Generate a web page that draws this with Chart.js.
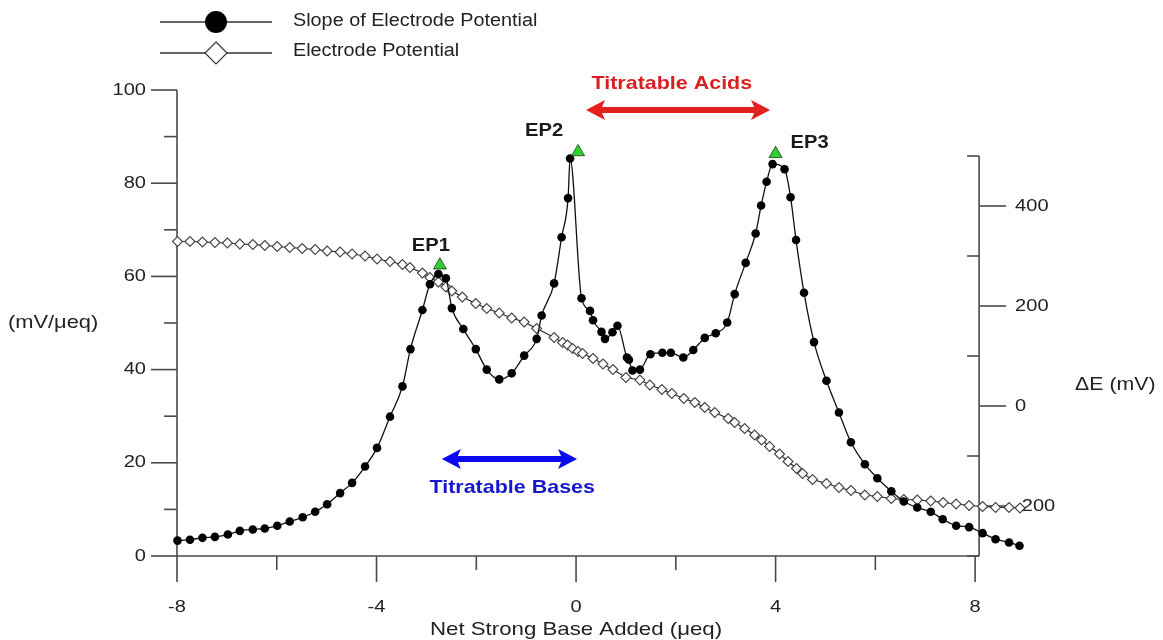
<!DOCTYPE html>
<html>
<head>
<meta charset="utf-8">
<script src="https://cdn.jsdelivr.net/npm/chart.js@4.4.1/dist/chart.umd.min.js"></script>
<style>
  html, body { margin: 0; padding: 0; background: #fff; }
  #wrap { width: 1163px; height: 640px; }
</style>
</head>
<body>
<div id="wrap"><canvas id="chart" width="1163" height="640"></canvas></div>
<script>
// slope of electrode potential (mV/μeq) vs net strong base added (μeq)
const slopeX = [-7.99, -7.74, -7.49, -7.24, -6.98, -6.74, -6.48, -6.24, -5.99, -5.74, -5.48, -5.23, -4.99,
  -4.73, -4.49, -4.23, -3.99, -3.73, -3.48, -3.32, -3.08, -2.93, -2.76, -2.61, -2.49,
  -2.26, -2.01, -1.79, -1.54, -1.29, -1.04, -0.79, -0.69, -0.44, -0.29, -0.16, -0.12,
  0.11, 0.28, 0.34, 0.51, 0.58, 0.73, 0.83, 1.02, 1.06, 1.13, 1.28, 1.49, 1.73, 1.90, 2.15, 2.35, 2.58, 2.80,
  3.03, 3.18, 3.40, 3.60, 3.71, 3.82, 3.94,
  4.18, 4.30, 4.41, 4.57, 4.77, 5.02, 5.27, 5.51, 5.79, 6.04, 6.32, 6.57, 6.84, 7.11, 7.35, 7.62, 7.88,
  8.15, 8.41, 8.68, 8.89];
const slopeY = [3.3, 3.5, 3.9, 4.1, 4.6, 5.4, 5.7, 5.9, 6.5, 7.4, 8.3, 9.5, 11.1,
  13.5, 15.7, 19.2, 23.2, 29.9, 36.4, 44.4, 52.8, 58.3, 60.5, 59.6, 53.2,
  48.7, 44.4, 40.0, 37.9, 39.2, 43.0, 46.6, 51.6, 58.5, 68.4, 76.8, 85.3,
  55.3, 52.6, 50.6, 48.1, 46.6, 48.0, 49.4, 42.6, 42.1, 39.8, 40.0, 43.3, 43.6, 43.6, 42.6, 44.2, 46.8, 47.8,
  50.1, 56.2, 62.9, 69.2, 75.2, 80.3, 84.1,
  83.0, 77.0, 67.8, 56.5, 45.9, 37.6, 30.8, 24.4, 19.7, 16.7, 13.9, 11.7, 10.4, 9.5, 7.9, 6.5, 6.2,
  4.9, 3.6, 2.9, 2.2];

// electrode potential ΔE (mV), right axis
const potX = [-7.99, -7.74, -7.49, -7.24, -6.99, -6.74, -6.48, -6.24, -5.99, -5.74, -5.49, -5.23, -4.99,
  -4.73, -4.49, -4.23, -3.99, -3.73, -3.48, -3.33, -3.08, -2.93, -2.76, -2.61, -2.49,
  -2.28, -2.01, -1.79, -1.54, -1.29, -1.04, -0.79, -0.44, -0.27, -0.17, -0.07, 0.04, 0.13, 0.34, 0.54, 0.74, 1.0,
  1.28, 1.48, 1.72, 1.92, 2.16, 2.38, 2.58, 2.78, 3.05, 3.18, 3.38, 3.58, 3.72, 3.88, 4.08, 4.25, 4.42, 4.54, 4.74,
  5.02, 5.27, 5.51, 5.79, 6.04, 6.32, 6.57, 6.84, 7.11, 7.36, 7.62, 7.88, 8.15, 8.41, 8.68, 8.9];
const potY = [329, 329, 328, 327, 326, 324, 323, 321, 319, 317, 315, 313, 310,
  308, 304, 300, 294, 289, 283, 277, 266, 257, 248, 238, 230,
  218, 205, 195, 186, 176, 168, 155, 137, 127, 122, 115, 109, 105, 95, 84, 73, 57,
  52, 42, 33, 25, 15, 7, -3, -13, -25, -33, -45, -58, -68, -81, -96, -111, -125, -135, -147,
  -155, -163, -169, -178, -181, -185, -187, -188, -190, -193, -196, -199, -201, -203, -203, -204];

// equivalence points
const epNames = ["EP1", "EP2", "EP3"];
const epX = [-2.73, 0.04, 4.0];
const epY = [62.4, 86.7, 86.3];

// axes
const xTickLabels = [-8, -4, 0, 4, 8];
const xMinorTicks = [-6, -2, 2, 6];
const leftTickLabels = [0, 20, 40, 60, 80, 100];
const leftMinorTicks = [10, 30, 50, 70, 90];
const rightTickLabels = [-200, 0, 200, 400];
const rightMinorTicks = [-300, -100, 100, 300, 500];
const rightAxisAt = 8.08;

const FONT = '"Liberation Sans", Arial, sans-serif';
const AXIS_COLOR = "#4a4a4a";
const TEXT_COLOR = "#222";

function text(ctx, str, x, y, font, color, align, sx) {
  ctx.save();
  ctx.font = font;
  ctx.fillStyle = color;
  ctx.textAlign = align || "center";
  ctx.textBaseline = "middle";
  ctx.translate(x, y);
  ctx.scale(sx || 1, 1);
  ctx.fillText(str, 0, 0);
  ctx.restore();
}

function line(ctx, x1, y1, x2, y2) {
  ctx.beginPath();
  ctx.moveTo(x1, y1);
  ctx.lineTo(x2, y2);
  ctx.stroke();
}

function doubleArrow(ctx, x1, x2, y, color) {
  const head = 19, half = 10, shaft = 3;
  ctx.save();
  ctx.fillStyle = color;
  ctx.beginPath();
  ctx.moveTo(x1, y);
  ctx.lineTo(x1 + head, y - half);
  ctx.lineTo(x1 + head - 3, y - shaft);
  ctx.lineTo(x2 - head + 3, y - shaft);
  ctx.lineTo(x2 - head, y - half);
  ctx.lineTo(x2, y);
  ctx.lineTo(x2 - head, y + half);
  ctx.lineTo(x2 - head + 3, y + shaft);
  ctx.lineTo(x1 + head - 3, y + shaft);
  ctx.lineTo(x1 + head, y + half);
  ctx.closePath();
  ctx.fill();
  ctx.restore();
}

function diamond(ctx, cx, cy, r) {
  ctx.beginPath();
  ctx.moveTo(cx, cy - r);
  ctx.lineTo(cx + r, cy);
  ctx.lineTo(cx, cy + r);
  ctx.lineTo(cx - r, cy);
  ctx.closePath();
}

// axis lines, ticks and labels, drawn underneath the data
const axesPlugin = {
  id: "axes",
  beforeDatasetsDraw(chart) {
    const ctx = chart.ctx;
    const sx = chart.scales.x, sy = chart.scales.y, sr = chart.scales.y2;
    const left = sx.getPixelForValue(-8);
    const bottom = sy.getPixelForValue(0);
    const rightX = sx.getPixelForValue(rightAxisAt);
    ctx.save();
    ctx.strokeStyle = AXIS_COLOR;
    ctx.lineWidth = 1.6;
    // left axis
    line(ctx, left, sy.getPixelForValue(100), left, bottom);
    leftTickLabels.forEach(v => {
      const py = sy.getPixelForValue(v);
      line(ctx, left - 26, py, left, py);
      text(ctx, String(v), left - 31, py, "17px " + FONT, TEXT_COLOR, "right", 1.18);
    });
    leftMinorTicks.forEach(v => {
      const py = sy.getPixelForValue(v);
      line(ctx, left - 13, py, left, py);
    });
    // bottom axis
    line(ctx, left, bottom, rightX, bottom);
    xTickLabels.forEach(v => {
      const px = sx.getPixelForValue(v);
      line(ctx, px, bottom, px, bottom + 26);
      text(ctx, String(v), px, bottom + 51, "17px " + FONT, TEXT_COLOR, "center", 1.18);
    });
    xMinorTicks.forEach(v => {
      const px = sx.getPixelForValue(v);
      line(ctx, px, bottom, px, bottom + 14);
    });
    // right axis
    line(ctx, rightX, sr.getPixelForValue(500), rightX, sr.getPixelForValue(-300));
    rightTickLabels.forEach(v => {
      const py = sr.getPixelForValue(v);
      line(ctx, rightX, py, rightX + 27, py);
      text(ctx, String(v), rightX + 36, py, "17px " + FONT, TEXT_COLOR, "left", 1.18);
    });
    rightMinorTicks.forEach(v => {
      const py = sr.getPixelForValue(v);
      line(ctx, rightX - 12, py, rightX, py);
    });
    ctx.restore();

    // axis titles
    text(ctx, "(mV/μeq)", 8, sy.getPixelForValue(50), "19px " + FONT, TEXT_COLOR, "left", 1.15);
    text(ctx, "ΔE (mV)", rightX + 96, sr.getPixelForValue(42), "19px " + FONT, TEXT_COLOR, "left", 1.12);
    text(ctx, "Net Strong Base Added (μeq)", sx.getPixelForValue(0), 630, "19px " + FONT, TEXT_COLOR, "center", 1.17);
  },
  afterDatasetsDraw(chart) {
    const ctx = chart.ctx;
    const sx = chart.scales.x, sy = chart.scales.y;

    // EP labels
    const offsets = [[-9, -19], [-34, -21], [34, -11]];
    epNames.forEach((name, i) => {
      const px = sx.getPixelForValue(epX[i]) + offsets[i][0];
      const py = sy.getPixelForValue(epY[i]) + offsets[i][1];
      text(ctx, name, px, py, "bold 18px " + FONT, "#1a1a1a", "center", 1.12);
    });

    // titratable ranges
    doubleArrow(ctx, sx.getPixelForValue(0.2), sx.getPixelForValue(3.89), sy.getPixelForValue(95.7), "#e3201e");
    text(ctx, "Titratable Acids", sx.getPixelForValue(1.92), sy.getPixelForValue(101.3), "bold 19px " + FONT, "#d91f1f", "center", 1.13);
    doubleArrow(ctx, sx.getPixelForValue(-2.69), sx.getPixelForValue(0.02), sy.getPixelForValue(20.8), "#0a0af0");
    text(ctx, "Titratable Bases", sx.getPixelForValue(-1.28), sy.getPixelForValue(14.6), "bold 19px " + FONT, "#1616cc", "center", 1.13);

    // legend
    ctx.save();
    ctx.strokeStyle = "#333";
    ctx.lineWidth = 1.4;
    line(ctx, 160, 22, 272, 22);
    ctx.fillStyle = "#000";
    ctx.beginPath();
    ctx.arc(216, 22, 11, 0, Math.PI * 2);
    ctx.fill();
    line(ctx, 160, 53, 272, 53);
    diamond(ctx, 216, 53, 11);
    ctx.fillStyle = "#fff";
    ctx.fill();
    ctx.lineWidth = 1.2;
    ctx.stroke();
    ctx.restore();
    text(ctx, "Slope of Electrode Potential", 293, 21, "18px " + FONT, TEXT_COLOR, "left", 1.1);
    text(ctx, "Electrode Potential", 293, 51, "18px " + FONT, TEXT_COLOR, "left", 1.1);
  }
};

const slopePoints = slopeX.map((x, i) => ({ x: x, y: slopeY[i] }));
const potPoints = potX.map((x, i) => ({ x: x, y: potY[i] }));
const epPoints = epX.map((x, i) => ({ x: x, y: epY[i] }));

new Chart(document.getElementById("chart"), {
  type: "line",
  data: {
    datasets: [
      {
        label: "EP",
        data: epPoints,
        yAxisID: "y",
        showLine: false,
        pointStyle: "triangle",
        pointRadius: 7.5,
        pointBackgroundColor: "#2fd12f",
        pointBorderColor: "#1a3a1a",
        pointBorderWidth: 0.8,
        clip: false,
        order: 0,
      },
      {
        label: "Slope of Electrode Potential",
        data: slopePoints,
        yAxisID: "y",
        borderColor: "#111",
        borderWidth: 1.3,
        cubicInterpolationMode: "monotone",
        pointRadius: 4.3,
        pointBackgroundColor: "#000",
        pointBorderColor: "#000",
        pointBorderWidth: 0,
        clip: false,
        order: 1,
      },
      {
        label: "Electrode Potential",
        data: potPoints,
        yAxisID: "y2",
        borderColor: "#222",
        borderWidth: 1.1,
        tension: 0,
        pointStyle: "rectRot",
        pointRadius: 5,
        pointBackgroundColor: "#fff",
        pointBorderColor: "#444",
        pointBorderWidth: 1.1,
        clip: false,
        order: 2,
      },
    ],
  },
  options: {
    responsive: false,
    devicePixelRatio: 1,
    animation: false,
    layout: { padding: { left: 177, right: 138, top: 90, bottom: 84 } },
    plugins: { legend: { display: false }, tooltip: { enabled: false } },
    scales: {
      x: { type: "linear", min: -8, max: 9, display: false },
      y: { min: 0, max: 100, display: false },
      y2: { min: -300, max: 632, display: false },
    },
  },
  plugins: [axesPlugin],
});
</script>
</body>
</html>
